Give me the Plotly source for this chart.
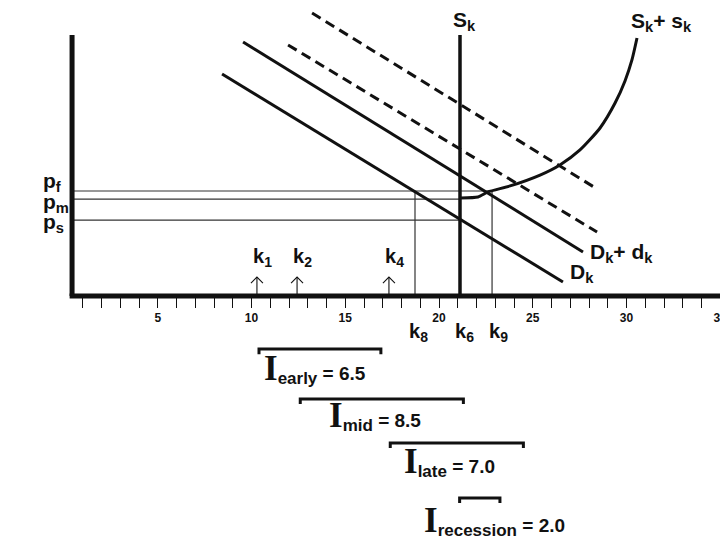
import plotly.graph_objects as go

# straight demand lines (quantity x, price y)
dk_x = [8.43, 26.61]
dk_y = [11.84, 0.75]
dkdk_x = [9.55, 27.68]
dkdk_y = [13.55, 2.35]
dash_hi_x = [13.23, 28.43]
dash_hi_y = [15.09, 5.71]
dash_lo_x = [11.95, 28.43]
dash_lo_y = [13.39, 3.41]

# vertical supply S_k and curved S_k + s_k
sk_x = 21.12
sk_top = 13.92
sksk_x = [21.17, 22.08, 22.61, 23.79, 25.39, 26.45, 27.52, 28.59, 29.39, 29.92, 30.29, 30.56]
sksk_y = [5.23, 5.28, 5.55, 5.87, 6.45, 6.99, 7.79, 8.96, 10.29, 11.47, 12.59, 13.76]

# price levels
price_names = ["f", "m", "s"]
price_vals = [5.6, 5.17, 4.05]
price_ends = [22.83, 21.12, 21.12]

# k markers
k_up_names = ["1", "2", "4"]
k_up_vals = [10.29, 12.43, 17.33]
k_down_names = ["8", "6", "9"]
k_down_vals = [18.72, 21.12, 22.83]

# intervals
int_names = ["early", "mid", "late", "recession"]
int_start = [10.4, 12.6, 17.4, 21.1]
int_end = [16.9, 21.3, 24.5, 23.25]
int_vals = [6.5, 8.5, 7.0, 2.0]

INK = "#111111"
SANS = "Liberation Sans"
SERIF = "Liberation Serif"

# page body has an 8px margin, so the figure is 8px smaller each way
W, H = 720, 533
UNIT = 18.75
X0, Y0 = 56, 288

fig = go.Figure()

def line(x, y, width=3, dash=None, color=INK, shape="linear", smoothing=1):
    fig.add_trace(go.Scatter(x=x, y=y, mode="lines", showlegend=False, hoverinfo="skip",
                             line=dict(color=color, width=width, dash=dash, shape=shape,
                                       smoothing=smoothing)))

# thin guide lines for prices and k8 / k9
for v, e in zip(price_vals, price_ends):
    line([0.43, e], [v, v], width=1.2, color="#333333")
for v in [k_down_vals[0], k_down_vals[2]]:
    line([v, v], [0, price_vals[0]], width=1.2, color="#333333")

line(dk_x, dk_y)
line(dkdk_x, dkdk_y)
line(dash_hi_x, dash_hi_y, dash="10px,6px")
line(dash_lo_x, dash_lo_y, dash="10px,6px")
line([sk_x, sk_x], [0, sk_top], width=3.5)
line(sksk_x, sksk_y, width=3, shape="spline", smoothing=0.6)

# small up arrows at k1, k2, k4
tip, hw = 1.01, 0.32
ax_, ay_ = [], []
for v in k_up_vals:
    ax_ += [v, v, None, v - hw, v, v + hw, None]
    ay_ += [0, tip, None, tip - hw, tip, tip - hw, None]
line(ax_, ay_, width=1.1)

# axes drawn as thick lines
line([0.3, 36], [0, 0], width=5)
line([0.43, 0.43], [0, 13.92], width=5)

# interval brackets
row_y = [-2.83, -5.49, -7.84, -10.77]
for s, e, ry in zip(int_start, int_end, row_y):
    line([s, s, e, e], [ry - 0.27, ry, ry, ry - 0.27], width=3)

ann = []
def text(x, y, t, size=20, xanchor="left", yanchor="middle", family=SANS):
    ann.append(dict(x=x, y=y, text=t, showarrow=False, xanchor=xanchor, yanchor=yanchor,
                    font=dict(family=family, size=size, color=INK)))

text(-3.05, 14.85, "<b>Price</b>", size=22)
text(20.62, 14.65, "<b>S<sub>k</sub></b>", size=21)
text(30.15, 14.6, "<b>S<sub>k</sub>+ s<sub>k</sub></b>", size=21)
text(27.95, 2.3, "<b>D<sub>k</sub>+ d<sub>k</sub></b>", size=21)
text(26.9, 1.25, "<b>D<sub>k</sub></b>", size=21)

for n, y in zip(price_names, [6.1, 4.98, 3.9]):
    text(-1.25, y, "<b>p<sub>%s</sub></b>" % n, size=21)

for n, v in zip(k_up_names, k_up_vals):
    text(v - 0.3, 2.03, "<b>k<sub>%s</sub></b>" % n, size=20)

for n, v, lx in zip(k_down_names, k_down_vals, [18.3, 20.75, 22.55]):
    text(lx, -1.97, "<b>k<sub>%s</sub></b>" % n, size=20)

label_x = [10.55, 14.0, 18.0, 19.1]
label_y = [-3.85, -6.36, -8.81, -11.98]
for n, v, lx, ly in zip(int_names, int_vals, label_x, label_y):
    t = ("<span style='font-family:%s;font-size:35px'><b>I</b></span>"
         "<b><sub><span style='font-size:17px'>%s</span></sub> = %.1f</b>" % (SERIF, n, v))
    text(lx, ly, t, size=19)

fig.update_layout(
    width=W, height=H,
    margin=dict(l=0, r=0, t=0, b=0, pad=0),
    paper_bgcolor="white", plot_bgcolor="white",
    annotations=ann,
    xaxis=dict(range=[-X0 / UNIT, (W - X0) / UNIT], anchor="free", position=(H - Y0) / H,
               showgrid=False, zeroline=False, showline=False,
               tickmode="array", tickvals=[5, 10, 15, 20, 25, 30, 35],
               ticks="outside", ticklen=11, tickwidth=1.3, tickcolor=INK,
               tickfont=dict(family=SANS, size=12, color=INK, weight="bold"),
               minor=dict(tickmode="array", tickvals=list(range(1, 36)), ticks="outside",
                          ticklen=11, tickwidth=1.3, tickcolor=INK)),
    yaxis=dict(range=[-(H - Y0) / UNIT, Y0 / UNIT], visible=False),
)

fig.write_html("out.html")
